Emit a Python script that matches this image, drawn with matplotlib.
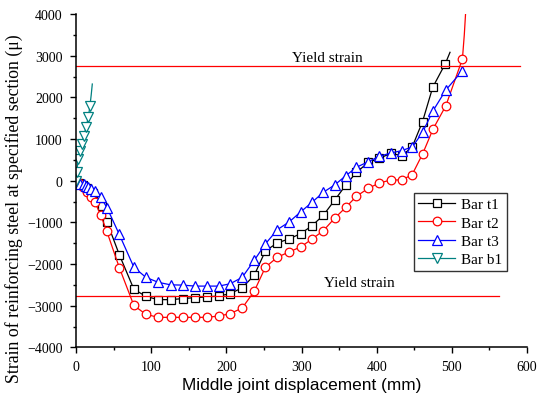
import matplotlib
matplotlib.use("Agg")
import matplotlib.pyplot as plt
from matplotlib.ticker import MultipleLocator

# Bar t1 (last point is line-only)
t1_x = [0, 4, 9, 15, 23, 34, 41, 57.6, 77, 93, 109.5, 126, 142, 158, 174, 190, 205, 221,
        237, 252, 268, 283.5, 299, 314, 329, 344, 359, 373, 389, 403.5, 419, 433, 447,
        461, 474.5, 491.3, 497.5]
t1_y = [0, -50, -100, -170, -300, -600, -980, -1775, -2605, -2777, -2855, -2855, -2830,
        -2807, -2790, -2768, -2712, -2570, -2274, -1684, -1492, -1397, -1270, -1080, -830,
        -470, -103, 200, 440, 537, 658, 600, 800, 1420, 2241, 2810, 3081]

# Bar t2 (last two points are line-only)
t2_x = [0, 4, 9, 14.2, 20, 25.3, 32.8, 41, 57.6, 77, 93, 109.5, 126, 142, 158, 174, 190,
        205, 221, 237, 252, 268, 283.5, 299, 314, 329, 344, 359, 373, 389, 403.5, 419,
        433, 447, 461, 475, 492, 514, 516.5, 518.5]
t2_y = [0, -60, -140, -280, -400, -519, -820, -1215, -2085, -2995, -3208, -3280, -3280,
        -3280, -3280, -3280, -3248, -3192, -3057, -2658, -2075, -1836, -1710, -1590, -1400,
        -1200, -902, -638, -374, -182, -55, 17, 17, 140, 640, 1241, 1800, 2921, 3500, 4100]

# Bar t3
t3_x = [0, 3, 6, 10, 13, 16.4, 20, 25.3, 32.8, 41.6, 57.6, 77, 93, 109.5, 126, 142, 158,
        174, 190, 205, 221, 237, 252, 268, 283.5, 299, 314, 329, 344, 359, 373, 389,
        403.5, 419, 433, 447.5, 461, 475, 492, 514]
t3_y = [0, -40, -70, -90, -120, -160, -200, -240, -390, -662, -1290, -2077, -2320, -2440,
        -2500, -2506, -2530, -2530, -2530, -2474, -2322, -1915, -1516, -1173, -991, -747,
        -518, -278, -103, 120, 322, 456, 586, 665, 720, 812, 1161, 1680, 2177, 2640]

# Bar b1 (last two points are line-only)
b1_x = [0, 0.9, 3.1, 5.3, 7.6, 10.6, 13.3, 16.4, 18.6, 20.2, 21.7]
b1_y = [0, 200, 521, 720, 881, 1080, 1281, 1521, 1800, 2050, 2320]

yield_strain = 2760

plt.rcParams["font.family"] = ["Liberation Serif", "DejaVu Serif"]
plt.rcParams["mathtext.fontset"] = "stix"

fig = plt.figure(figsize=(5.37, 4.06), dpi=100)
ax = fig.add_axes([0.1415, 0.142, 0.84, 0.821])

common = dict(lw=0.9, mew=0.9, mfc="white")
ax.plot(t1_x, t1_y, color="black", marker="s", ms=5.8,
        markevery=list(range(len(t1_x) - 1)), label="Bar t1", **common)
ax.plot(t2_x, t2_y, color="#ff0000", marker="o", ms=6.2,
        markevery=list(range(len(t2_x) - 2)), label="Bar t2", **common)
ax.plot(t3_x, t3_y, color="#0000ff", marker="^", ms=6.8, label="Bar t3", **common)
ax.plot(b1_x, b1_y, color="#008080", marker="v", ms=6.8,
        markevery=list(range(len(b1_x) - 2)), label="Bar b1", **common)

# yield limits
ax.plot([0, 590], [yield_strain, yield_strain], color="#ff0000", lw=0.9)
ax.plot([0, 563], [-yield_strain, -yield_strain], color="#ff0000", lw=0.9)
ax.text(335, 2960, "Yield strain", ha="center", va="center", fontsize=11)
ax.text(377, -2455, "Yield strain", ha="center", va="center", fontsize=11)

ax.set_xlim(0, 600)
ax.set_ylim(-4000, 4000)
ax.xaxis.set_major_locator(MultipleLocator(100))
ax.xaxis.set_minor_locator(MultipleLocator(50))
ax.yaxis.set_major_locator(MultipleLocator(1000))
ax.yaxis.set_minor_locator(MultipleLocator(500))
ax.tick_params(which="major", direction="out", length=4.5, width=1, labelsize=10)
ax.tick_params(axis="y", which="major", pad=5)
ax.tick_params(axis="x", which="major", pad=4.5)
ax.tick_params(which="minor", direction="out", length=2.5, width=1)
for s in ("top", "right"):
    ax.spines[s].set_visible(False)
for s in ("left", "bottom"):
    ax.spines[s].set_linewidth(1.1)

ax.set_xlabel("Middle joint displacement (mm)", family=["Liberation Sans", "DejaVu Sans"],
              fontsize=12.4, labelpad=3)
ax.set_ylabel("Strain of reinforcing steel at specified section (\u03bc)", fontsize=12.8)
ax.yaxis.set_label_coords(-0.118, 0.42)

leg = ax.legend(loc="upper left", bbox_to_anchor=(0.749, 0.463), fontsize=11,
                frameon=True, fancybox=False, edgecolor="black", handlelength=2.4,
                labelspacing=0.3, borderpad=0.3, handletextpad=0.4, borderaxespad=0)
leg.get_frame().set_linewidth(1)

fig.savefig("out.png", dpi=100)
